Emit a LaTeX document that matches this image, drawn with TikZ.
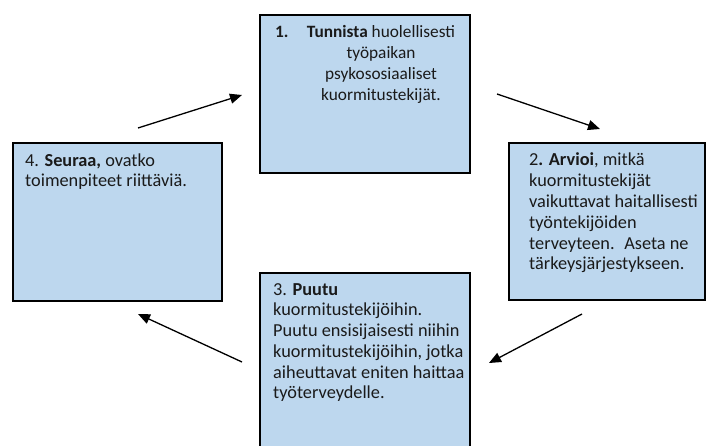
\documentclass[tikz,border=0pt]{standalone}
\usepackage{fontspec}
\setmainfont{Carlito}
\usetikzlibrary{arrows.meta}
\definecolor{boxfill}{HTML}{BDD7EE}
\definecolor{txtcol}{HTML}{1A1A1A}
\begin{document}
\begin{tikzpicture}[x=1pt,y=-1pt,
  box/.style={draw=black, line width=2pt, fill=boxfill},
  txt/.style={inner sep=0pt, text=txtcol, font=\fontsize{18.3}{20.8}\selectfont},
  txtsm/.style={inner sep=0pt, text=txtcol, font=\fontsize{17.3}{21}\selectfont},
  arr/.style={line width=1.3pt, -{Triangle[length=12pt,width=10pt]}}]
\useasboundingbox (0,0) rectangle (707,446);
\clip (0,0) rectangle (707,446);
% boxes
\path[box] (260,15) rectangle (470,173) node[midway] (b1) {};
\path[box] (509,143) rectangle (705,300) node[midway] (b2) {};
\path[box] (260,273) rectangle (470,470) node[midway] (b3) {};
\path[box] (13,143) rectangle (222,301) node[midway] (b4) {};
% texts (base anchor = baseline of the last line)
\node[txtsm, anchor=base west] (n1) at (275,38) {\textbf{1.}};
\node[txtsm, anchor=base, align=center] (t1) at (381,101) {\textbf{Tunnista} huolellisesti\\työpaikan\\psykososiaaliset\\kuormitustekijät.};
\node[txt, anchor=base west, align=left] (t2) at (529,270) {2\textbf{. Arvioi}, mitkä\\kuormitustekijät\\vaikuttavat haitallisesti\\työntekijöiden\\terveyteen.~ Aseta ne\\tärkeysjärjestykseen.};
\node[txt, anchor=base west, align=left] (t3) at (273,399) {3. \textbf{Puutu}\\kuormitustekijöihin.\\Puutu ensisijaisesti niihin\\kuormitustekijöihin, jotka\\aiheuttavat eniten haittaa\\työterveydelle.};
\node[txt, anchor=base west, align=left] (t4) at (25,187) {4. \textbf{Seuraa,} ovatko\\toimenpiteet riittäviä.};
% arrow ends
\coordinate (a1s) at (138,128); \coordinate (a1e) at (242,95);
\coordinate (a2s) at (497,94);  \coordinate (a2e) at (600,129);
\coordinate (a3s) at (582,314); \coordinate (a3e) at (489,363);
\coordinate (a4s) at (242,362); \coordinate (a4e) at (138,314);
\draw[arr] (a1s) -- (a1e);
\draw[arr] (a2s) -- (a2e);
\draw[arr] (a3s) -- (a3e);
\draw[arr] (a4s) -- (a4e);
\end{tikzpicture}
\end{document}
